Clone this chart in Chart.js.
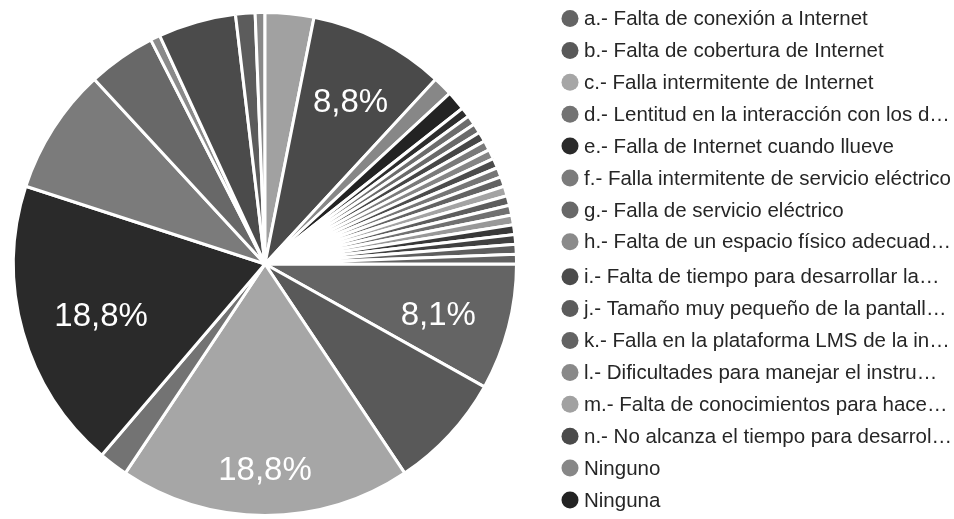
<!DOCTYPE html>
<html>
<head>
<meta charset="utf-8">
<script src="https://cdn.jsdelivr.net/npm/chart.js@4.4.1/dist/chart.umd.min.js"></script>
<style>
  html, body { margin: 0; padding: 0; background: #fff; overflow: hidden; }
  #c { display: block; }
</style>
</head>
<body>
<canvas id="c" width="954" height="519"></canvas>
<script>
// Response options (as shown in the legend)
const categories = [
  'a.- Falta de conexión a Internet',
  'b.- Falta de cobertura de Internet',
  'c.- Falla intermitente de Internet',
  'd.- Lentitud en la interacción con los d…',
  'e.- Falla de Internet cuando llueve',
  'f.- Falla intermitente de servicio eléctrico',
  'g.- Falla de servicio eléctrico',
  'h.- Falta de un espacio físico adecuad…',
  'i.- Falta de tiempo para desarrollar la…',
  'j.- Tamaño muy pequeño de la pantall…',
  'k.- Falla en la plataforma LMS de la in…',
  'l.- Dificultades para manejar el instru…',
  'm.- Falta de conocimientos para hace…',
  'n.- No alcanza el tiempo para desarrol…',
  'Ninguno',
  'Ninguna'
];
// Number of answers per option (160 answers in total)
const counts = [13, 12, 30, 3, 30, 13, 7, 1, 8, 2, 0, 1, 5, 14, 2, 2];

// Free-text answers, one respondent each (not listed in the legend)
const otherAnswers = [
  'Otra 1', 'Otra 2', 'Otra 3', 'Otra 4', 'Otra 5', 'Otra 6', 'Otra 7', 'Otra 8', 'Otra 9',
  'Otra 10', 'Otra 11', 'Otra 12', 'Otra 13', 'Otra 14', 'Otra 15', 'Otra 16', 'Otra 17'
];
const otherCounts = [1, 1, 1, 1, 1, 1, 1, 1, 1, 1, 1, 1, 1, 1, 1, 1, 1];

// Grey palette, one tone per slice
const optionColors = [
  '#646464', '#595959', '#a6a6a6', '#737373', '#2a2a2a', '#7b7b7b', '#686868', '#8a8a8a',
  '#4b4b4b', '#5c5c5c', '#636363', '#898989', '#a1a1a1', '#4a4a4a', '#878787', '#232323'
];
const otherColors = [
  '#2e2e2e', '#6d6d6d', '#6a6a6a', '#464646', '#7a7a7a', '#858585', '#4c4c4c', '#767676', '#636363',
  '#a3a3a3', '#5d5d5d', '#707070', '#989898', '#383838', '#404040', '#5e5e5e', '#626262'
];

// Slices that carry a percentage label
const labelledSlices = [0, 2, 4, 13];

const FONT = '"Liberation Sans", Arial, sans-serif';

// Percentage text inside the large slices
const sliceLabels = {
  id: 'sliceLabels',
  afterDatasetsDraw(chart) {
    const ctx = chart.ctx;
    const meta = chart.getDatasetMeta(0);
    const data = chart.data.datasets[0].data;
    const total = data.reduce((s, v) => s + v, 0);
    ctx.save();
    ctx.font = '33px ' + FONT;
    ctx.fillStyle = '#ffffff';
    ctx.textAlign = 'center';
    ctx.textBaseline = 'middle';
    labelledSlices.forEach(i => {
      const arc = meta.data[i];
      const p = arc.getProps(['x', 'y', 'startAngle', 'endAngle', 'outerRadius'], true);
      const mid = (p.startAngle + p.endAngle) / 2;
      const text = (data[i] / total * 100).toFixed(1).replace('.', ',') + '%';
      const w = ctx.measureText(text).width, h = 26;
      const ux = Math.cos(mid), uy = Math.sin(mid);
      // push the text out until its outer corner reaches a fixed radius
      const reach = p.outerRadius * 0.87;
      const b = Math.abs(ux) * w / 2 + Math.abs(uy) * h / 2;
      const c = (w / 2) ** 2 + (h / 2) ** 2 - reach * reach;
      const rho = -b + Math.sqrt(b * b - c);
      ctx.fillText(text, p.x + ux * rho, p.y + uy * rho + 6.5);
    });
    ctx.restore();
  }
};

// Legend column on the right (named options only)
const sideLegend = {
  id: 'sideLegend',
  afterDraw(chart) {
    const ctx = chart.ctx;
    const colors = chart.data.datasets[0].backgroundColor;
    ctx.save();
    ctx.font = '20.5px ' + FONT;
    ctx.textAlign = 'left';
    ctx.textBaseline = 'middle';
    categories.forEach((name, i) => {
      const y = 18.5 + i * 31.9 + (i >= 8 ? 3 : 0);
      ctx.fillStyle = colors[i];
      ctx.beginPath();
      ctx.arc(570, y, 8.5, 0, Math.PI * 2);
      ctx.fill();
      ctx.fillStyle = '#262626';
      ctx.fillText(name, 584, y + 1);
    });
    ctx.restore();
  }
};

new Chart(document.getElementById('c'), {
  type: 'pie',
  data: {
    labels: categories.concat(otherAnswers),
    datasets: [{
      data: counts.concat(otherCounts),
      backgroundColor: optionColors.concat(otherColors),
      borderColor: '#ffffff',
      borderWidth: 3
    }]
  },
  options: {
    responsive: false,
    devicePixelRatio: 1,
    animation: false,
    rotation: 90,
    layout: { padding: { left: 12, top: 11, right: 436, bottom: 2 } },
    plugins: {
      legend: { display: false },
      tooltip: { enabled: false }
    }
  },
  plugins: [sliceLabels, sideLegend]
});
</script>
</body>
</html>
